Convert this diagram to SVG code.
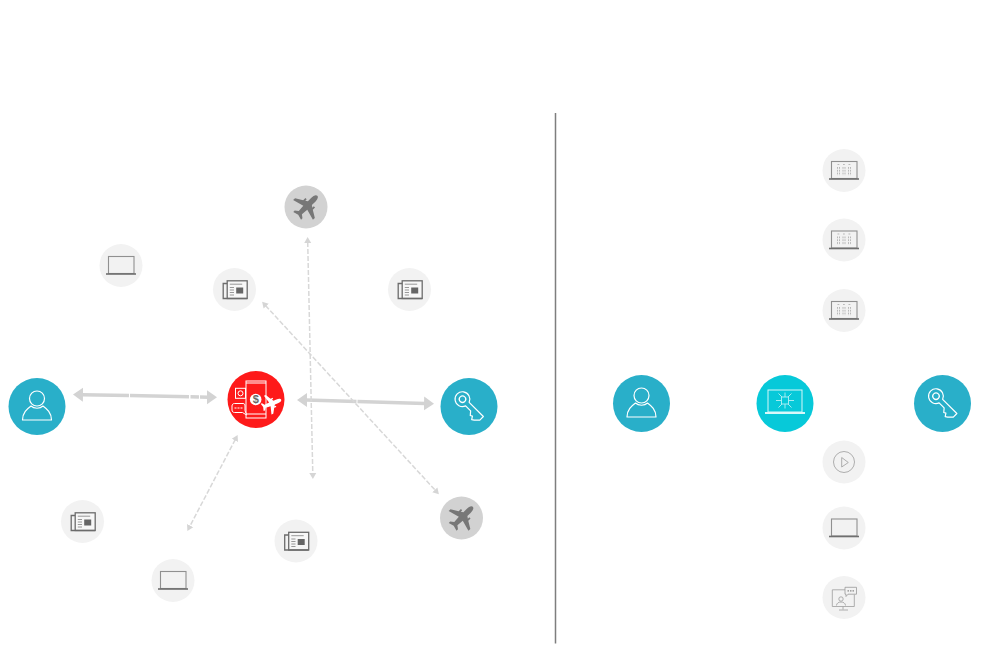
<svg xmlns="http://www.w3.org/2000/svg" xmlns:xlink="http://www.w3.org/1999/xlink" width="1005" height="650" viewBox="0 0 1005 650">
<style>
.bg{fill:#fff}
.blue{fill:#29afc9}
.teal{fill:#07c9d9}
.red{fill:#fe1a1a}
.pale{fill:#f2f2f2}
.mid{fill:#d2d2d2}
.w{fill:none;stroke:#fff;stroke-width:1.2;stroke-linejoin:round}
.g{fill:none;stroke:#909090;stroke-width:1.1}
.thin{fill:none;stroke:#9c9c9c;stroke-width:.8}
.thick{fill:none;stroke:#d3d3d3;stroke-width:3.5}
.dash{fill:none;stroke:#d8d8d8;stroke-width:1.5;stroke-dasharray:5 2}
.small{font-family:"Liberation Sans",Arial,sans-serif;font-weight:700;font-size:11px;fill:#666;text-anchor:middle}
</style>
<defs>
<marker id="big" markerUnits="userSpaceOnUse" markerWidth="12" markerHeight="16" refX="1" refY="8" orient="auto-start-reverse"><path d="M0 1L10 8L0 15Z" fill="#d3d3d3"/></marker>
<marker id="tiny" markerUnits="userSpaceOnUse" markerWidth="8" markerHeight="8" refX="1" refY="4" orient="auto-start-reverse"><path d="M0 .5L6 4L0 7.500Z" fill="#d5d5d5"/></marker>
<path id="plane" d="M0-16C2-16 2.800-13 2.800-10V-5.500L5-4V-6H6.800V-2.800L14 1.500V4.200L2.800 1L2.200 8L5.500 10.500V12.500L0 11L-5.500 12.500V10.500L-2.200 8L-2.800 1L-14 4.200V1.500L-6.800-2.800V-6H-5V-4L-2.800-5.500V-10C-2.800-13-2-16 0-16Z"/>
<g id="user"><circle cx="0" cy="-8" r="7.500" class="w"/><path class="w" d="M-14.500 13.500C-14.500 6-10 2.500-6-.5C-3 2.500 3 2.500 6-.5C10 2.500 14.500 6 14.500 13.500Z"/></g>
<g id="key"><g transform="translate(-6.500 -7.300) rotate(45)"><path class="w" d="M6.900-2.500A7.400 7.400 0 1 0 6.900 2.500H14L17 6L19 5L21 8L23 6.500L24.500 5L27 2.500V-2.500Z"/><circle r="3.200" class="w"/></g></g>
<g id="laptop"><rect x="-12.500" y="-9" width="25.500" height="17" class="g"/><path d="M-15 8.500H15" fill="none" stroke="#6f6f6f" stroke-width="1.600"/></g>
<g id="news"><rect x="-7.300" y="-8.700" width="20" height="17.700" fill="#f7f7f7" stroke="#6c6c6c" stroke-width="1.300"/><path d="M-7.300-6H-11.300V9H12.700" fill="none" stroke="#6c6c6c" stroke-width="1.300"/><path d="M-4.700-5.300H7.700M-4.700-2H-.5M-4.700 .5H-.5M-4.700 3H-.5M-4.700 5.500H-.5" stroke="#808080" stroke-width=".8" fill="none"/><rect x="1.700" y="-2" width="7" height="6" fill="#666"/></g>
<g id="circuit"><use xlink:href="#laptop"/><path d="M-6.500-6H-4.500M-6.500-3.500V5M-4.500-3.500V5M-1-6H1M-1-3.500V5M1-3.500V5M4.500-6H6.500M4.500-3.500V5M6.500-3.500V5" fill="none" stroke="#aaa" stroke-width=".8" stroke-dasharray="1.800 1"/></g>
</defs>
<rect class="bg" width="1005" height="650"/>
<g id="connectors">
<path class="thick" d="M82 394.700L129 395.600M130 395.600L189 396.800M190.500 396.800L199 397M200 397L208 397.200" marker-start="url(#big)"/>
<path class="thick" d="M207 397.200L208 397.200" marker-end="url(#big)"/>
<path class="thick" d="M306 400L356.500 401.500M357.500 401.500L407.500 403L425 403.500" marker-end="url(#big)"/>
<path class="thick" d="M306 400L307 400" marker-start="url(#big)"/>
<path class="dash" d="M307.700 242L312.800 474" marker-start="url(#tiny)" marker-end="url(#tiny)"/>
<path class="dash" d="M265.500 305.500L435.500 490.500" marker-start="url(#tiny)" marker-end="url(#tiny)"/>
<path class="dash" d="M235.300 439.500L189.700 526.500" marker-start="url(#tiny)" marker-end="url(#tiny)"/>
<path id="divider" d="M555.500 113V643.500" fill="none" stroke="#7e7e7e" stroke-width="1.500"/>
</g>
<g id="user-left" transform="translate(37 406.500)"><circle r="28.500" class="blue"/><use xlink:href="#user"/></g>
<g id="hub-red" transform="translate(256 399.500)"><circle r="28.500" class="red"/><rect x="-10" y="-18.500" width="20" height="37" fill="none" stroke="#fff" stroke-width="1"/><path d="M-10-16.500H10M-10 14.500H10" stroke="#fff" stroke-width="1.200"/><circle cx="-.3" cy="0" r="5.800" fill="#fff"/><text x="-.3" y="3.900" class="small">$</text><g transform="translate(-15.500 -6.200)"><rect x="-5" y="-5" width="10" height="10" fill="none" stroke="#fff" stroke-width="1"/><circle r="2.500" fill="none" stroke="#fff" stroke-width="1"/></g><path d="M-21.500 4H-13C-11.500 4-11 5-11 6.500V11L-9.500 15.500L-13.500 13H-21.500C-23 13-24 12-24 10.500V6.500C-24 5-23 4-21.500 4Z" fill="#fe1a1a" stroke="#fff" stroke-width="1"/><path d="M-21.500 8.500H-19.500M-18.500 8.500H-16.500M-15.500 8.500H-13.500" stroke="#fff" stroke-width="1.200"/><use xlink:href="#plane" transform="translate(14.500 4.500) rotate(68) scale(.72)" fill="#fff"/></g>
<g id="key-left" transform="translate(469 406.500)"><circle r="28.500" class="blue"/><use xlink:href="#key"/></g>
<g id="plane-top" transform="translate(306 207)"><circle r="21.500" class="mid"/><use xlink:href="#plane" transform="rotate(45)" fill="#777"/></g>
<g id="plane-bottom" transform="translate(461.500 518)"><circle r="21.500" class="mid"/><use xlink:href="#plane" transform="rotate(45)" fill="#777"/></g>
<g id="laptop-a" transform="translate(121 265.500)"><circle r="21.500" class="pale"/><use xlink:href="#laptop"/></g>
<g id="news-a" transform="translate(234.500 289.500)"><circle r="21.500" class="pale"/><use xlink:href="#news"/></g>
<g id="news-b" transform="translate(409.500 289.500)"><circle r="21.500" class="pale"/><use xlink:href="#news"/></g>
<g id="news-c" transform="translate(82.500 521.500)"><circle r="21.500" class="pale"/><use xlink:href="#news"/></g>
<g id="laptop-b" transform="translate(173 580.500)"><circle r="21.500" class="pale"/><use xlink:href="#laptop"/></g>
<g id="news-d" transform="translate(296 541)"><circle r="21.500" class="pale"/><use xlink:href="#news"/></g>
<g id="user-right" transform="translate(641.500 403.500)"><circle r="28.500" class="blue"/><use xlink:href="#user"/></g>
<g id="hub-teal" transform="translate(785 403.500)"><circle r="28.500" class="teal"/><rect x="-17" y="-13.500" width="34" height="22" fill="none" stroke="#d8f8fa" stroke-width="1"/><path d="M-20 9.500H20" stroke="#d8f8fa" stroke-width="2"/><g fill="none" stroke="#b5eff4" stroke-width=".9"><rect x="-3.500" y="-6.500" width="7" height="7"/><path d="M0-6.500V-11M0 .5V5M-3.500-3H-9M3.500-3H9M-3-6.500L-6.500-10M3-6.500L6.500-10M-3 .5L-6.500 4M3 .5L6.500 4"/></g></g>
<g id="key-right" transform="translate(942.500 403.500)"><circle r="28.500" class="blue"/><use xlink:href="#key"/></g>
<g id="option-1" transform="translate(844 170.500)"><circle r="21.500" class="pale"/><use xlink:href="#circuit"/></g>
<g id="option-2" transform="translate(844 240)"><circle r="21.500" class="pale"/><use xlink:href="#circuit"/></g>
<g id="option-3" transform="translate(844 310.500)"><circle r="21.500" class="pale"/><use xlink:href="#circuit"/></g>
<g id="option-4" transform="translate(844 462)"><circle r="21.500" class="pale"/><circle r="10.500" class="thin"/><path class="thin" d="M-2.300-4.500L4.300 .5L-2.300 5Z"/></g>
<g id="option-5" transform="translate(844 528)"><circle r="21.500" class="pale"/><use xlink:href="#laptop"/></g>
<g id="option-6" transform="translate(844 597.500)"><circle r="21.500" class="pale"/><path class="thin" d="M1-7.700H-11.700V9H10.300V-3M-1 9V12M-5 12.500H4"/><circle cx="-3" cy="1.500" r="2.200" class="thin"/><path class="thin" d="M-7.500 8C-7.500 5.500-5 4.500-3 4.500S1.500 5.500 1.500 8"/><path d="M1-10.200H12.500V-3.300H4L2-1V-3.300H1Z" fill="#f2f2f2" stroke="#999" stroke-width=".8"/><path d="M3.500-6.700H5M6-6.700H7.500M8.500-6.700H10" stroke="#888" stroke-width="1.200"/></g>
</svg>
